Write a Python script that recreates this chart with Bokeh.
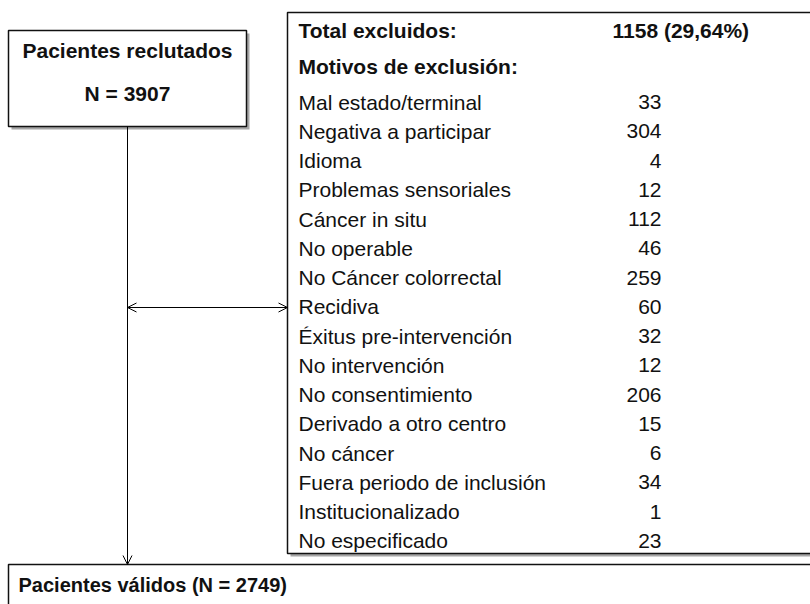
from bokeh.plotting import figure
from bokeh.models import ColumnDataSource, Range1d, Arrow, OpenHead
from bokeh.core.properties import value
from bokeh.embed import file_html
from bokeh.resources import INLINE

# ---- data ----
recruited_title = "Pacientes reclutados"
recruited_n = "N = 3907"
total_label = "Total excluidos:"
total_value = "1158 (29,64%)"
reasons_title = "Motivos de exclusión:"
reasons = ["Mal estado/terminal", "Negativa a participar", "Idioma", "Problemas sensoriales",
           "Cáncer in situ", "No operable", "No Cáncer colorrectal", "Recidiva",
           "Éxitus pre-intervención", "No intervención", "No consentimiento",
           "Derivado a otro centro", "No cáncer", "Fuera periodo de inclusión",
           "Institucionalizado", "No especificado"]
counts = [33, 304, 4, 12, 112, 46, 259, 60, 32, 12, 206, 15, 6, 34, 1, 23]
valid_label = "Pacientes válidos (N = 2749)"

W, H = 810, 604
FONT = value("Liberation Sans")
FS = "21px"

p = figure(width=W, height=H, output_backend="svg", toolbar_location=None,
           x_range=Range1d(0, W), y_range=Range1d(H, 0), min_border=0)
p.axis.visible = False
p.grid.visible = False
p.outline_line_color = None
p.background_fill_color = "white"

SH = "#a6a6a6"
BW = 1.5

def box(l, r, t, b, shadow=True):
    if shadow:
        p.quad(left=[l + 3], right=[r + 3], top=[t + 3], bottom=[b + 3],
               fill_color=SH, line_color=None)
    p.quad(left=[l], right=[r], top=[t], bottom=[b], fill_color="white",
           line_color="#111111", line_width=BW)

# left box
box(8, 246, 30, 126)
p.text(x=[127, 127], y=[50, 93], text=[recruited_title, recruited_n],
       text_font=FONT, text_font_size=FS, text_font_style="bold",
       text_align="center", text_baseline="middle", text_color="#111111")

# right box
box(287, 1000, 12, 553)
p.text(x=[298, 298], y=[30, 66], text=[total_label, reasons_title],
       text_font=FONT, text_font_size=FS, text_font_style="bold",
       text_align="left", text_baseline="middle", text_color="#111111")
p.text(x=[612], y=[30], text=[total_value],
       text_font=FONT, text_font_size=FS, text_font_style="bold",
       text_align="left", text_baseline="middle", text_color="#111111")

row0, step = 101.5, 29.25
ys = [row0 + i * step for i in range(len(reasons))]
src = ColumnDataSource(dict(y=ys, label=reasons, val=[str(c) for c in counts]))
p.text(x=298, y="y", text="label", source=src, text_font=FONT, text_font_size=FS,
       text_align="left", text_baseline="middle", text_color="#111111")
p.text(x=661, y="y", text="val", source=src, text_font=FONT, text_font_size=FS,
       text_align="right", text_baseline="middle", text_color="#111111")

# bottom box
box(8, 1000, 564, 800, shadow=False)
p.text(x=[18], y=[584], text=[valid_label], text_font=FONT, text_font_size="20px",
       text_font_style="bold", text_align="left", text_baseline="middle",
       text_color="#111111")

# arrows
p.add_layout(Arrow(end=OpenHead(size=9, line_width=1, line_color="black"),
                   x_start=127, y_start=126, x_end=127, y_end=564,
                   line_width=1, line_color="black"))
p.add_layout(Arrow(start=OpenHead(size=9, line_width=1, line_color="black"),
                   end=OpenHead(size=9, line_width=1, line_color="black"),
                   x_start=127, y_start=307, x_end=287, y_end=307,
                   line_width=1, line_color="black"))

open("out.html", "w").write(file_html(p, INLINE))
